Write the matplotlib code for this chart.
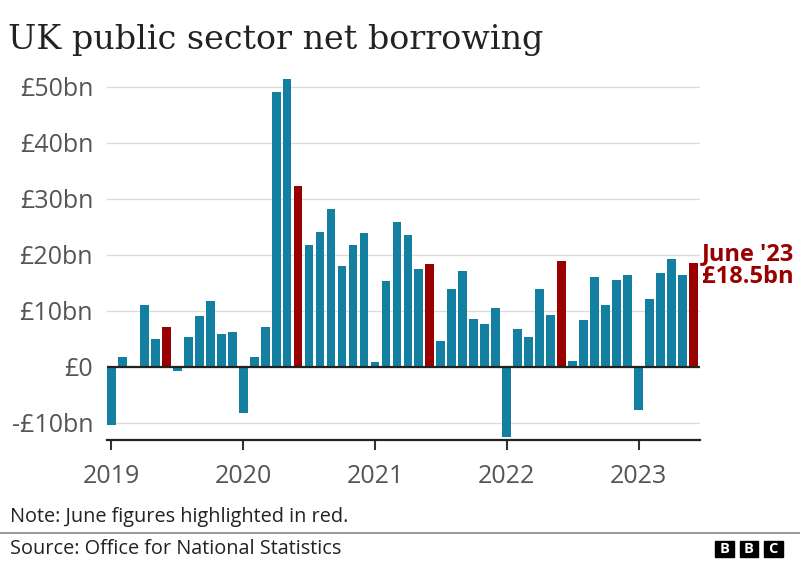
import numpy as np
import matplotlib
matplotlib.use('Agg')
import matplotlib.pyplot as plt
from matplotlib.patches import Rectangle

# monthly net borrowing, Jan 2019 - Jun 2023 (£bn)
borrowing = [
    -10.5, 1.8, 0.1, 11.1, 5.0, 7.1, -0.7, 5.3, 9.0, 11.8, 5.8, 6.2,      # 2019
    -8.3, 1.7, 7.0, 49.0, 51.3, 32.2, 21.8, 24.0, 28.2, 17.9, 21.7, 23.9,  # 2020
    0.8, 15.3, 25.8, 23.6, 17.4, 18.3, 4.6, 13.9, 17.1, 8.6, 7.7, 10.4,    # 2021
    -12.6, 6.8, 5.3, 13.8, 9.2, 18.8, 1.0, 8.3, 16.0, 11.0, 15.5, 16.4,    # 2022
    -7.7, 12.0, 16.8, 19.2, 16.4, 18.5,                                     # 2023
]
years = ['2019', '2020', '2021', '2022', '2023']
y_ticks = [-10, 0, 10, 20, 30, 40, 50]
y_labels = ['-£10bn', '£0', '£10bn', '£20bn', '£30bn', '£40bn', '£50bn']

blue = '#1380A1'
red = '#990000'
grey = '#555555'
sans = ['Open Sans', 'DejaVu Sans']

x = np.arange(len(borrowing))
colors = [red if i % 12 == 5 else blue for i in x]

fig = plt.figure(figsize=(8, 5.62), dpi=100)
ax = fig.add_axes([0.13375, 0.2171, 0.74125, 0.6535])

ax.bar(x, borrowing, width=0.8, color=colors, zorder=3)
ax.set_xlim(-0.4, 53.6)
ax.set_ylim(-13.1, 52.5)

ax.set_yticks(y_ticks)
ax.set_yticklabels(y_labels, family=sans, fontsize=18, color=grey)
ax.set_xticks(np.arange(0, len(borrowing), 12))
ax.set_xticklabels(years, family=sans, fontsize=18, color=grey)
ax.tick_params(axis='y', length=0, pad=10)
ax.tick_params(axis='x', length=7, width=1.5, color='#333333', pad=10)

ax.grid(axis='y', color='#dcdcdc', lw=1, zorder=0)
ax.axhline(0, color='#222222', lw=1.6, zorder=4)
for s in ['top', 'right', 'left']:
    ax.spines[s].set_visible(False)
ax.spines['bottom'].set_color('#222222')
ax.spines['bottom'].set_linewidth(1.6)

ax.text(53.75, borrowing[-1] - 0.5, "June '23\n£18.5bn", family=sans, fontsize=17,
        fontweight='bold', color=red, va='center', ha='left', linespacing=0.95,
        clip_on=False)

fig.text(8 / 800, 1 - 40 / 562, 'UK public sector net borrowing', family=['DejaVu Serif'],
         fontsize=24, color='#222222', va='center', ha='left')
fig.text(10 / 800, 1 - 517 / 562, 'Note: June figures highlighted in red.', family=sans,
         fontsize=14.3, color='#222222', va='center', ha='left')
fig.text(10 / 800, 1 - 549 / 562, 'Source: Office for National Statistics', family=sans,
         fontsize=14.3, color='#222222', va='center', ha='left')
fig.add_artist(plt.Line2D([0, 1], [1 - 533 / 562, 1 - 533 / 562], color='#888888', lw=1.2))

# BBC blocks
for i, letter in enumerate('BBC'):
    x0 = (715 + i * 24.5) / 800
    fig.add_artist(Rectangle((x0, 1 - 557 / 562), 18.5 / 800, 16 / 562, color='#000000'))
    fig.text(x0 + 9.25 / 800, 1 - 549 / 562, letter, family=sans, fontsize=10.5, fontweight='bold',
             color='white', ha='center', va='center')

fig.savefig('out.png', dpi=100, facecolor='white')
